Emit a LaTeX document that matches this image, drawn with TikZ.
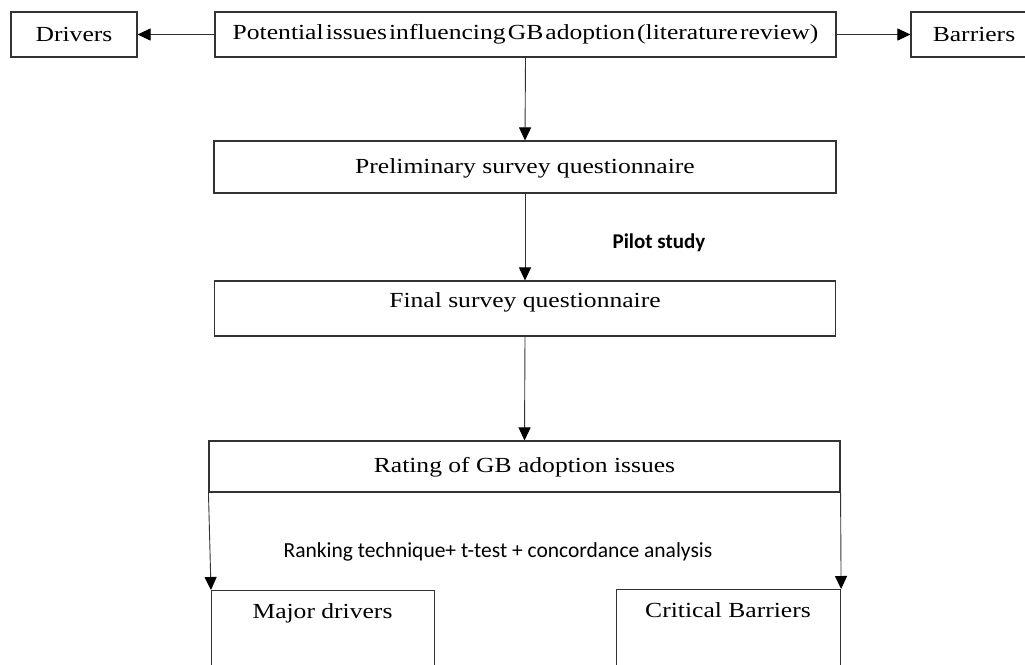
\documentclass[tikz,border=0pt]{standalone}
\usepackage{fontspec}
\setmainfont{Liberation Serif}[FakeStretch=1.19]
\newfontfamily\calib{Carlito}
\usetikzlibrary{arrows.meta}
\begin{document}
\begin{tikzpicture}[x=1pt,y=-1pt,
  box/.style={draw=black!80, line width=1.1pt, inner sep=0pt, font=\fontsize{21.5}{24}\selectfont},
  conn/.style={draw=black!80, line width=0.9pt, -{Triangle[length=13pt,width=12pt,fill=black,color=black]}},
  lbl/.style={inner sep=0pt},
  serif/.style={font=\fontsize{21.5}{24}\selectfont}]
\clip (0,0) rectangle (1025,664);
\fill[white] (0,0) rectangle (1025,664);
\node[box, minimum width=126, minimum height=45] (drivers) at (74,34.5) {Drivers};
\node[box, minimum width=621, minimum height=45] (top) at (525.5,34.5) {\spaceskip=0.1em plus 0.05em\relax Potential issues influencing GB adoption (literature review)};
\node[box, minimum width=126, minimum height=45] (barriers) at (974,34.5) {Barriers};
\node[box, minimum width=622, minimum height=52] (prelim) at (525,167) {};
\node[lbl, serif] (prelimt) at (525,168) {Preliminary survey questionnaire};
\node[box, minimum width=621, minimum height=55] (final) at (525,308.5) {};
\node[lbl, serif] (finalt) at (525,302) {Final survey questionnaire};
\node[lbl, serif] (ratingt) at (524.5,467) {Rating of GB adoption issues};
\node[box, minimum width=631, minimum height=51] (rating) at (524.5,466.5) {};
\node[lbl, font=\calib\fontsize{21.5}{24}\selectfont] (rank) at (498,552) {Ranking technique+ t-test + concordance analysis};
\node[lbl, font=\calib\bfseries\fontsize{21}{24}\selectfont] (pilot) at (659,243) {Pilot study};
\node[box, minimum width=223, minimum height=120, anchor=north west] (major) at (211,590) {};
\node[lbl, serif] (majort) at (322.5,613) {Major drivers};
\node[box, minimum width=224, minimum height=120, anchor=north west] (crit) at (616,589) {};
\node[lbl, serif] (critt) at (728,610) {Critical Barriers};
\draw[conn] (top.west) -- (drivers.east);
\draw[conn] (top.east) -- (barriers.west);
\draw[conn] (top.south) -- (prelim.north);
\draw[conn] (prelim.south) -- (final.north);
\draw[conn] (final.south) -- (rating.north);
\draw[conn] (rating.south west) -- (major.north west);
\draw[conn] (rating.south east) -- (crit.north east);
\end{tikzpicture}
\end{document}
